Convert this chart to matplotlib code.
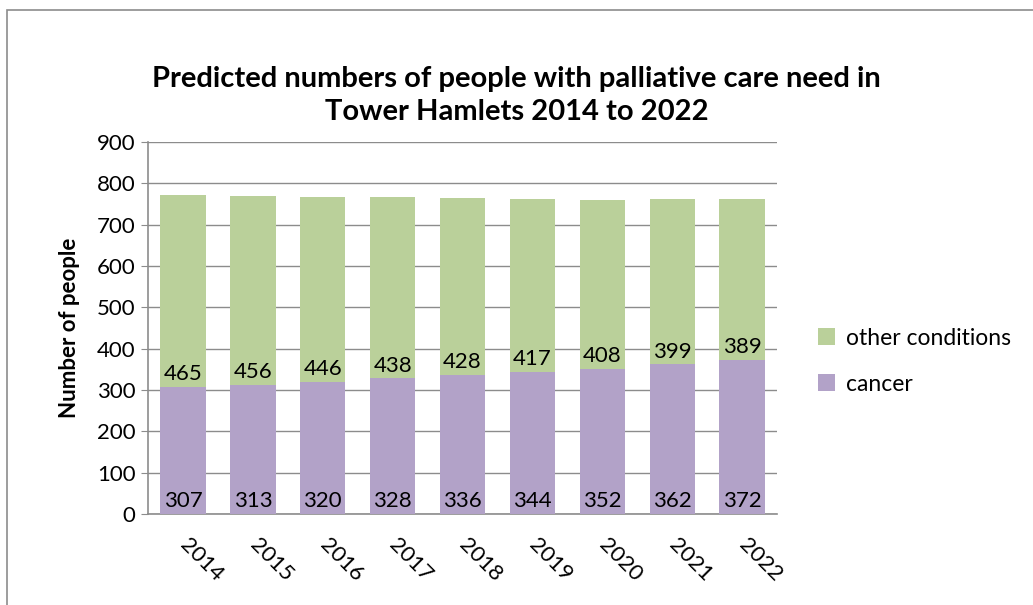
import numpy as np
import matplotlib.pyplot as plt
from matplotlib.patches import Rectangle

plt.rcParams['font.family'] = ['Lato', 'DejaVu Sans']

years = ['2014', '2015', '2016', '2017', '2018', '2019', '2020', '2021', '2022']
cancer = [307, 313, 320, 328, 336, 344, 352, 362, 372]
other = [465, 456, 446, 438, 428, 417, 408, 399, 389]

green = '#BAD09A'
purple = '#B2A2C8'

fig = plt.figure(figsize=(10.33, 6.05), dpi=100)
fig.patches.append(Rectangle((0.007, -0.01), 1.2, 0.993, transform=fig.transFigure,
                             fill=False, edgecolor='#8c8c8c', linewidth=1.2))
ax = fig.add_axes([0.1433, 0.1504, 0.6090, 0.6149])

x = np.arange(len(years))
w = 0.65
b1 = ax.bar(x, cancer, w, color=purple, label='cancer', zorder=3)
b2 = ax.bar(x, other, w, bottom=cancer, color=green, label='other conditions', zorder=3)

for i in range(len(years)):
    ax.annotate(str(cancer[i]), (x[i], 0), xytext=(0, 2), textcoords='offset points',
                ha='center', va='bottom', fontsize=16, zorder=4)
    ax.annotate(str(other[i]), (x[i], cancer[i]), xytext=(0, 2), textcoords='offset points',
                ha='center', va='bottom', fontsize=16, zorder=4)

ax.set_xlim(-0.5, len(years) - 0.5)
ax.set_ylim(0, 900)
ax.set_yticks(range(0, 901, 100))
ax.set_xticks(x)
ax.set_xticklabels(years, rotation=-45, ha='left', va='center', rotation_mode='anchor', fontsize=16)
ax.tick_params(axis='x', length=0, pad=20)
ax.tick_params(axis='y', length=5, direction='out', labelsize=16, color='#8c8c8c', pad=4)
ax.yaxis.grid(True, color='#8c8c8c', linewidth=1.0, zorder=0)
for s in ['top', 'right']:
    ax.spines[s].set_visible(False)
for s in ['left', 'bottom']:
    ax.spines[s].set_color('#8c8c8c')
    ax.spines[s].set_linewidth(1.2)

ax.set_ylabel('Number of people', fontsize=16, fontweight='bold', labelpad=12)
fig.text(0.5, 0.842, 'Predicted numbers of people with palliative care need in\nTower Hamlets 2014 to 2022',
         ha='center', va='center', fontsize=21, fontweight='bold', linespacing=1.3)

handles = [b2, b1]
fig.legend(handles, ['other conditions', 'cancer'], loc='center left', bbox_to_anchor=(0.772, 0.403),
           frameon=False, fontsize=16.5, handlelength=0.75, handleheight=0.75, labelspacing=1.1,
           handletextpad=0.45)

fig.savefig('out.png', dpi=100)
